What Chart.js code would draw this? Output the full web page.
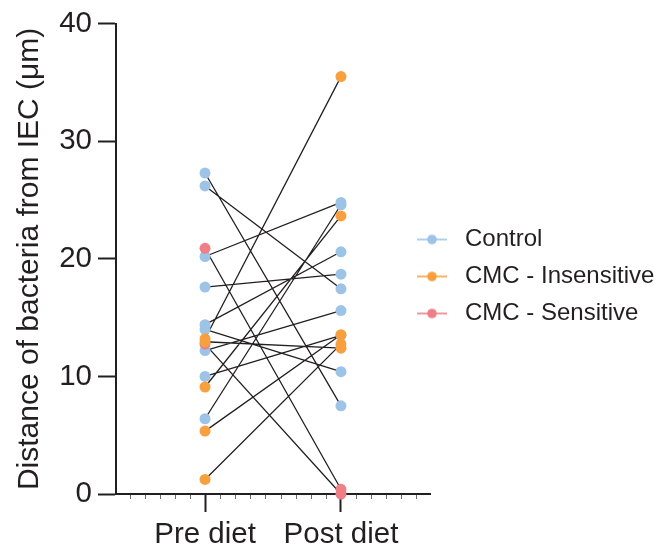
<!DOCTYPE html>
<html><head><meta charset="utf-8">
<script src="https://cdn.jsdelivr.net/npm/chart.js@4.4.1/dist/chart.umd.min.js"></script>
<style>html,body{margin:0;padding:0;background:#fff;}</style>
</head><body>
<canvas id="c" width="664" height="554" style="width:664px;height:554px;display:block"></canvas>
<script>
const categories = ['Pre diet', 'Post diet'];
const groupNames = ['Control', 'CMC - Insensitive', 'CMC - Sensitive'];
const groupColors = ['#9dc3e6', '#f8a03e', '#ef7f87'];
const controlPre  = [27.3, 26.2, 20.2, 17.6, 14.4, 14.0, 12.2, 10.0, 6.4];
const controlPost = [7.5, 17.45, 24.8, 18.7, 20.6, 10.4, 15.6, 13.5, 24.6];
const insensitivePre  = [13.2, 12.95, 9.1, 5.35, 1.24];
const insensitivePost = [35.5, 12.4, 23.65, 13.55, 12.75];
const sensitivePre  = [20.9, 12.75];
const sensitivePost = [0.4, 0.0];
const yTicks = [0, 10, 20, 30, 40];

const INK = '#231f20';
const FONT = "'Liberation Sans', Arial, Helvetica, sans-serif";
Chart.defaults.font.family = FONT;
Chart.defaults.color = INK;

const groups = [
  {pre: controlPre, post: controlPost},
  {pre: insensitivePre, post: insensitivePost},
  {pre: sensitivePre, post: sensitivePost}
];

// connecting lines (one segment per subject, separated by gaps)
const lineData = [];
groups.forEach(g => g.pre.forEach((v, i) => {
  lineData.push({x: 0, y: v}, {x: 1, y: g.post[i]}, {x: 0.5, y: null});
}));

function pointsOf(g) {
  return g.pre.map(v => ({x: 0, y: v})).concat(g.post.map(v => ({x: 1, y: v})));
}
// draw order: orange on top, then red, then blue
const drawOrder = [3, 1, 2];
const pointSets = groups.map((g, k) => ({
  label: groupNames[k],
  data: pointsOf(g),
  showLine: false,
  pointRadius: 5.5,
  pointHoverRadius: 5.5,
  pointBackgroundColor: groupColors[k],
  pointBorderWidth: 0,
  borderColor: groupColors[k],
  backgroundColor: groupColors[k],
  order: drawOrder[k],
  clip: false
}));

function legendMarker(color) {
  const c = document.createElement('canvas');
  c.width = 36; c.height = 12;
  const x = c.getContext('2d');
  x.strokeStyle = color; x.lineWidth = 1.6;
  x.beginPath(); x.moveTo(0, 6); x.lineTo(30, 6); x.stroke();
  x.fillStyle = color;
  x.beginPath(); x.arc(15, 6, 4.8, 0, Math.PI * 2); x.fill();
  return c;
}
const markers = groupColors.map(legendMarker);

const minorTicks = {
  id: 'minorTicks',
  beforeDatasetsDraw(chart) {
    const xs = chart.scales.x, ctx = chart.ctx;
    ctx.save();
    ctx.strokeStyle = '#6d6d6d'; ctx.lineWidth = 1;
    for (let k = -9; k <= 18; k++) {
      const v = k / 9;
      if (v < xs.min || v > xs.max || k === 0 || k === 9) continue;
      const px = Math.round(xs.getPixelForValue(v)) + 0.5;
      ctx.beginPath(); ctx.moveTo(px, xs.top + 1); ctx.lineTo(px, xs.top + 5); ctx.stroke();
    }
    ctx.restore();
  }
};

// let the legend box overlap the end of the x axis, as in the reference
const legendPlace = {
  id: 'legendPlace',
  afterLayout(chart) {
    const lg = chart.legend;
    lg.left = 404;
    lg.width = lg.right - lg.left;
    lg.top -= 11; lg.bottom -= 11;
  }
};

new Chart(document.getElementById('c'), {
  type: 'line',
  data: {
    datasets: [{
      label: 'lines',
      data: lineData,
      borderColor: INK,
      borderWidth: 1.3,
      pointRadius: 0,
      pointHoverRadius: 0,
      spanGaps: false,
      order: 10,
      clip: false
    }].concat(pointSets)
  },
  options: {
    responsive: false,
    devicePixelRatio: 1,
    animation: false,
    layout: {padding: {top: 21, left: 8, right: 0, bottom: 0}},
    plugins: {
      tooltip: {enabled: false},
      legend: {
        position: 'right',
        maxWidth: 234,
        labels: {
          usePointStyle: true,
          pointStyleWidth: 36,
          boxHeight: 12,
          padding: 13,
          font: {size: 24},
          color: INK,
          generateLabels: () => groupNames.map((n, k) => ({
            text: n, fillStyle: groupColors[k], strokeStyle: groupColors[k],
            lineWidth: 0, pointStyle: markers[k], hidden: false,
            datasetIndex: k + 1, fontColor: INK
          }))
        }
      }
    },
    scales: {
      x: {
        type: 'linear', min: -0.655, max: 1.655,
        afterBuildTicks: s => { s.ticks = categories.map((c, i) => ({value: i})); },
        ticks: {
          callback: v => categories[v] ?? '',
          font: {size: 29.5}, color: INK, padding: 5, autoSkip: false, maxRotation: 0
        },
        grid: {drawOnChartArea: false, tickLength: 18, tickWidth: 2, tickColor: INK},
        border: {display: true, color: INK, width: 2},
        afterFit: s => { s.height = 60; }
      },
      y: {
        min: 0, max: 40,
        afterBuildTicks: s => { s.ticks = yTicks.map(v => ({value: v})); },
        ticks: {font: {size: 29.5}, color: INK, padding: 6},
        grid: {drawOnChartArea: false, tickLength: 18, tickWidth: 2, tickColor: INK},
        border: {display: true, color: INK, width: 2},
        title: {
          display: true, text: 'Distance of bacteria from IEC (μm)',
          font: {size: 30}, color: INK, padding: {top: 4, bottom: 0}
        },
        afterFit: s => { s.width = 108; }
      }
    }
  },
  plugins: [minorTicks, legendPlace]
});
</script>
</body></html>
